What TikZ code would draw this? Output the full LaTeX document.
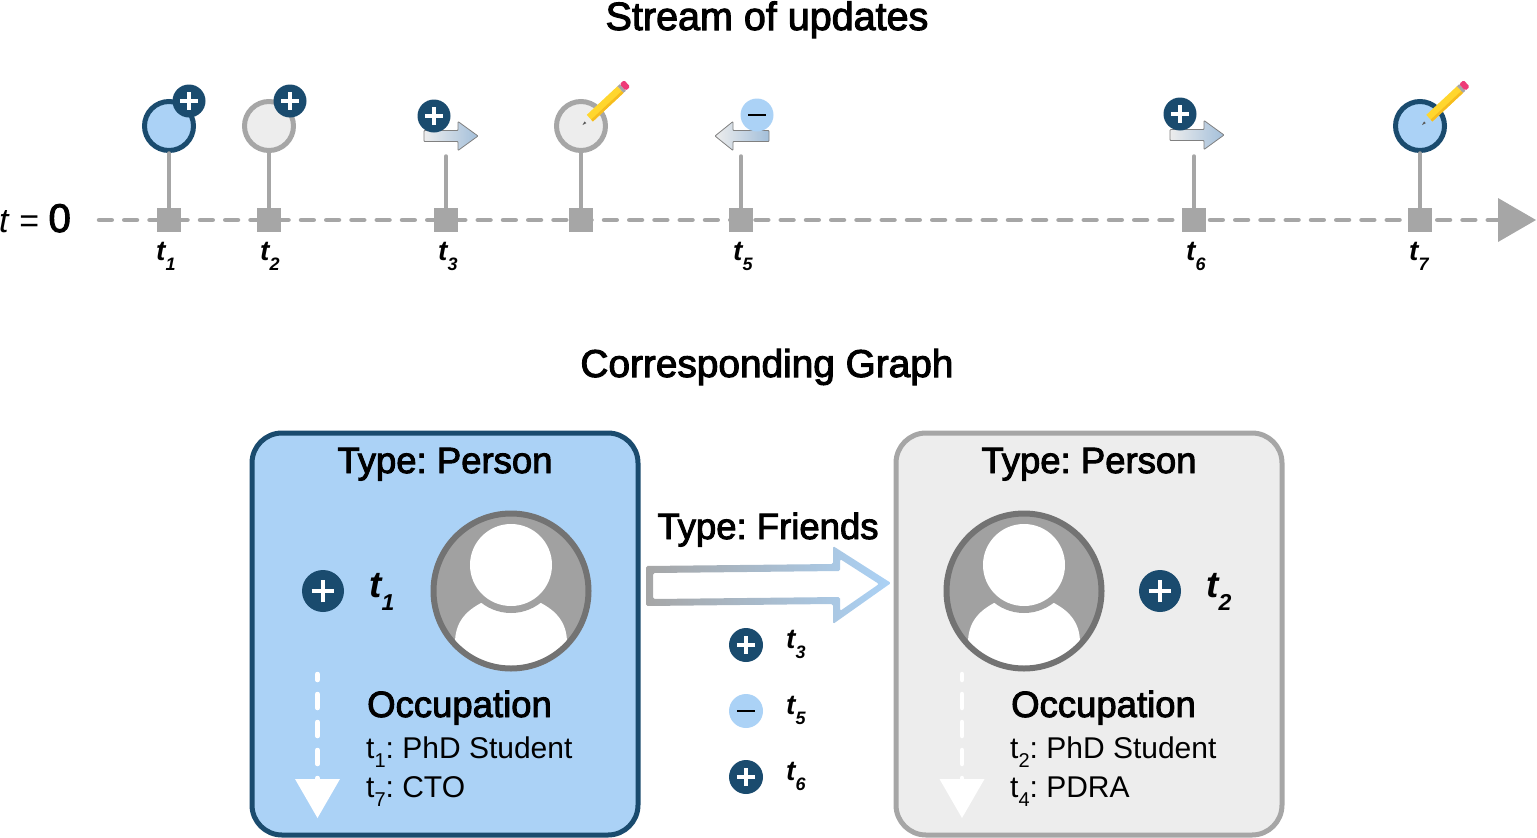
\documentclass[tikz,border=0pt]{standalone}
\usepackage{fontspec}
\setmainfont{Liberation Sans}
\newfontfamily\medfont[FakeBold=2.6]{Liberation Sans}
\usetikzlibrary{calc}
\definecolor{plusblue}{HTML}{1A4B6E}
\definecolor{nodeblue}{HTML}{ABD2F6}
\definecolor{nodegrey}{HTML}{EDEDED}
\definecolor{linegrey}{HTML}{A6A6A6}
\definecolor{arrowblue}{HTML}{A3BFDA}
\definecolor{pencilyellow}{HTML}{FFD62E}
\definecolor{pencilgold}{HTML}{F6BC1E}
\definecolor{pencilpink}{HTML}{EE3A78}
\newcommand{\tlab}[1]{\fontsize{28}{28}\selectfont\bfseries\itshape t\raisebox{-.36em}{\fontsize{18}{18}\selectfont #1}}
\newcommand{\tbig}[1]{\fontsize{37}{37}\selectfont\bfseries\itshape t\raisebox{-.36em}{\fontsize{23}{23}\selectfont #1}}
\newcommand{\tval}[1]{t\raisebox{-.32em}{\fontsize{20}{20}\selectfont #1}}
\tikzset{
    plusdot/.style={circle, fill=plusblue, inner sep=0pt, outer sep=0pt, minimum size=#1,
        path picture={\draw[white, line width=0.11*#1 pt]
            ($(path picture bounding box.center)+(-0.27*#1 pt,0)$) -- ($(path picture bounding box.center)+(0.27*#1 pt,0)$)
            ($(path picture bounding box.center)+(0,-0.27*#1 pt)$) -- ($(path picture bounding box.center)+(0,0.27*#1 pt)$);}},
    minusdot/.style={circle, fill=nodeblue, inner sep=0pt, outer sep=0pt, minimum size=#1,
        path picture={\draw[black, line width=0.055*#1 pt]
            ($(path picture bounding box.center)+(-0.27*#1 pt,0)$) -- ($(path picture bounding box.center)+(0.27*#1 pt,0)$);}},
    tick/.style={rectangle, fill=linegrey, inner sep=0pt, minimum size=24},
    bluecircle/.style={circle, draw=plusblue, fill=nodeblue, line width=5, inner sep=0pt, minimum size=49},
    greycircle/.style={circle, draw=linegrey, fill=nodegrey, line width=5, inner sep=0pt, minimum size=49},
    stem/.style={draw=linegrey, line width=3.5, line cap=round},
    bluebox/.style={rectangle, rounded corners=30, draw=plusblue, fill=nodeblue, line width=5, minimum width=386, minimum height=402},
    greybox/.style={rectangle, rounded corners=30, draw=linegrey, fill=nodegrey, line width=5, minimum width=386, minimum height=402},
    headtext/.style={font=\medfont\fontsize{36.5}{37}\selectfont, anchor=base, inner sep=0pt},
    titletext/.style={font=\medfont\fontsize{#1}{38}\selectfont, anchor=base, inner sep=0pt},
    valtext/.style={font=\fontsize{30}{30}\selectfont, anchor=base west, inner sep=0pt},
    pics/rightflow/.style={code={
        \shade[left color=nodegrey, right color=arrowblue, draw=gray, line width=.8, rounded corners=.8]
            (0,-5.5) -- (34,-5.5) -- (34,-14.5) -- (54,0) -- (34,14.5) -- (34,5.5) -- (0,5.5) -- cycle;
    }},
    pics/leftflow/.style={code={
        \shade[left color=nodegrey, right color=arrowblue, draw=gray, line width=.8, rounded corners=.8]
            (0,0) -- (18,-14.5) -- (18,-5.5) -- (54,-5.5) -- (54,5.5) -- (18,5.5) -- (18,14.5) -- cycle;
    }},
    pics/pencil/.style={code={
        \fill[black!65] (0,0) -- (4,-1.2) -- (4,1.2) -- cycle;
        \fill[pencilyellow] (10,-4.5) rectangle (52,4.5);
        \fill[pencilgold] (10,2) rectangle (52,4.5);
        \fill[black!35] (52,-4.5) rectangle (55,4.5);
        \fill[pencilpink, rounded corners=1.5] (55,-4.5) rectangle (61,4.5);
    }},
    pics/person/.style={code={
        \fill[black!37] (0,0) circle (79);
        \begin{scope}
            \clip (0,0) circle (79);
            \fill[white] (-56,90) -- (-56,52) .. controls (-56,32) and (-46,20) .. (-28,11) -- (28,11) .. controls (46,20) and (56,32) .. (56,52) -- (56,90) -- cycle;
        \end{scope}
        \fill[black!37] (0,-26) circle (48);
        \fill[white] (0,-26) circle (41);
        \draw[black!55, line width=6] (0,0) circle (77.5);
    }}
}

\begin{document}
\frenchspacing
\begin{tikzpicture}[x=1pt,y=-1pt]
    \useasboundingbox (0,0) rectangle (1537,838);
    \node[titletext=39.5] (streamtitle) at (767,30) {Stream of updates};
    \node[titletext=38.8] (graphtitle) at (767,377) {Corresponding Graph};

    % time line
    \coordinate (axisstart) at (99,220);
    \coordinate (axisend) at (1498,220);
    \draw[linegrey, line width=4.5, line cap=round, dash pattern=on 12.75pt off 12.5pt] (axisstart) -- (axisend);
    \fill[linegrey] (1498,198) -- (1536,220) -- (1498,242) -- cycle;
    \node[anchor=base west, inner sep=0pt] (tzero) at (-1,232) {\fontsize{34}{34}\selectfont\textit{t} = \fontsize{40}{40}\selectfont\medfont 0};
    \foreach \x/\n in {169/1,269/2,446/3,581/4,741/5,1194/6,1420/7}{
        \node[tick] (t\n) at (\x,220) {};
    }
    \foreach \x/\n in {156/1,260/2,438/3,733/5,1186/6,1409/7}{
        \node[anchor=base west, inner sep=0pt] (tlabel\n) at (\x,260) {\tlab{\n}};
    }

    % updates
    \node[bluecircle] (upd1) at (169,126) {};
    \node[greycircle] (upd2) at (269,126) {};
    \node[greycircle] (upd4) at (581,126) {};
    \node[bluecircle] (upd7) at (1420,126) {};
    \coordinate (upd3) at (446,156);
    \coordinate (upd5) at (741,156);
    \coordinate (upd6) at (1194,156);
    \foreach \n in {1,...,7}{
        \draw[stem] (upd\n) -- (t\n);
    }
    \pic at (424,136) {rightflow};
    \pic at (1170,135) {rightflow};
    \pic at (715,136) {leftflow};
    \node[plusdot=33] (plus1) at (189,101) {};
    \node[plusdot=33] (plus2) at (290,101) {};
    \node[plusdot=33] (plus3) at (434,116) {};
    \node[minusdot=33] (minus5) at (757,115) {};
    \node[plusdot=33] (plus6) at (1180,114) {};
    \pic[rotate=43] at (582.5,125) {pencil};
    \pic[rotate=43] at (1422,125) {pencil};

    % left vertex
    \node[bluebox] (personone) at (445,634) {};
    \node[headtext] (typeone) at (445,473) {Type: Person};
    \node[plusdot=42] (plusone) at (323,591) {};
    \node[anchor=base west, inner sep=0pt] (tone) at (369,597) {\tbig{1}};
    \pic at (511,591) {person};
    \draw[white, line width=4.5, line cap=round, dash pattern=on 14pt off 14pt, dash phase=8pt] (317.5,674) -- (317.5,780);
    \fill[white] (295,779) -- (340,779) -- (317.5,818) -- cycle;
    \node[headtext, anchor=base west] (occone) at (367,717) {Occupation};
    \node[valtext] (valonea) at (366,758) {\tval{1}: PhD Student};
    \node[valtext] (valoneb) at (366,797) {\tval{7}: CTO};

    % right vertex
    \node[greybox] (persontwo) at (1089,634) {};
    \node[headtext] (typetwo) at (1089,473) {Type: Person};
    \node[plusdot=42] (plustwo) at (1160,591) {};
    \node[anchor=base west, inner sep=0pt] (ttwo) at (1206,597) {\tbig{2}};
    \pic at (1024,591) {person};
    \draw[white, line width=4.5, line cap=round, dash pattern=on 14pt off 14pt, dash phase=8pt] (962,674) -- (962,780);
    \fill[white] (939.5,779) -- (984.5,779) -- (962,818) -- cycle;
    \node[headtext, anchor=base west] (occtwo) at (1011,717) {Occupation};
    \node[valtext] (valtwoa) at (1010,758) {\tval{2}: PhD Student};
    \node[valtext] (valtwob) at (1010,797) {\tval{4}: PDRA};

    % edge
    \node[headtext] (typeedge) at (768,539) {Type: Friends};
    \shade[left color=linegrey, right color=nodeblue, even odd rule, rounded corners=1.5]
        (646,566) -- (833,564) -- (833,546) -- (891,583) -- (833,624) -- (833,604) -- (646,606) -- cycle
        (653,573) -- (840,571) -- (840,559) -- (879,584) -- (840,611) -- (840,597) -- (653,599) -- cycle;
    \foreach \y/\n/\k in {645/3/plus,777/6/plus}{
        \node[plusdot=34] (\k\n) at (746,\y) {};
        \node[anchor=base west, inner sep=0pt] (edgelabel\n) at (786,\y+3) {\tlab{\n}};
    }
    \node[minusdot=34] (edgeminus) at (746,711) {};
    \node[anchor=base west, inner sep=0pt] (edgelabel5) at (786,714) {\tlab{5}};
\end{tikzpicture}
\end{document}
